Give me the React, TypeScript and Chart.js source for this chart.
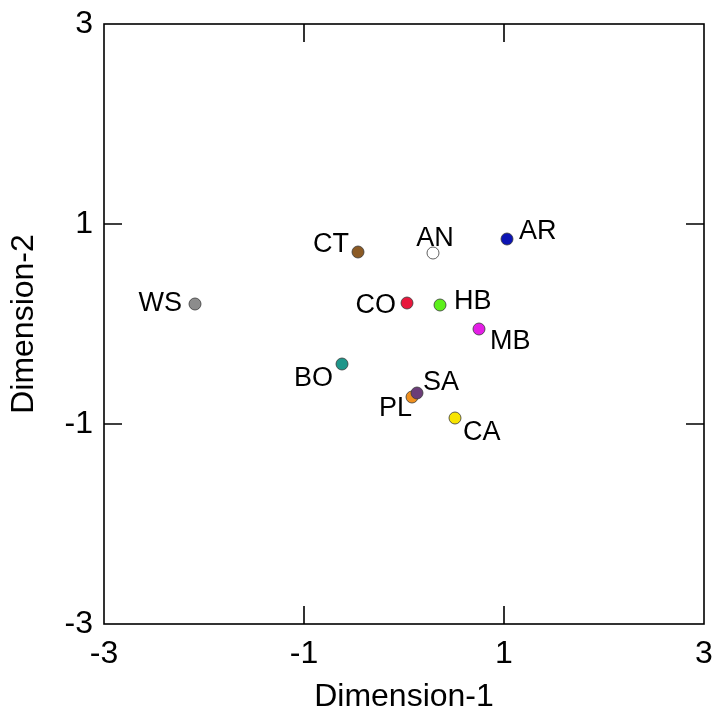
import React, { useEffect, useRef } from "react";
import { Chart, registerables } from "chart.js";

Chart.register(...registerables);

const groups = ["WS", "CT", "AN", "AR", "CO", "HB", "MB", "BO", "PL", "SA", "CA"];
const dimension1 = [-2.09, -0.46, 0.29, 1.03, 0.03, 0.36, 0.75, -0.62, 0.08, 0.13, 0.51];
const dimension2 = [0.2, 0.72, 0.71, 0.85, 0.21, 0.19, -0.05, -0.4, -0.73, -0.69, -0.94];
const pointColors = [
  "#8c8c8c", "#8b5a24", "#ffffff", "#0c14b4", "#e8173c", "#5cf01a",
  "#e41ee6", "#1e968a", "#f0901e", "#6b3d78", "#f7e400",
];
const axisTicks = [-3, -1, 1, 3];

// label placement (style): dx, dy from point centre, text alignment
const labelPlacement: [number, number, CanvasTextAlign][] = [
  [-13, 0, "right"],
  [-9, -7, "right"],
  [2, -14, "center"],
  [12, -7, "left"],
  [-11, 3, "right"],
  [14, -3, "left"],
  [11, 13, "left"],
  [-9, 15, "right"],
  [0, 12, "right"],
  [6, -10, "left"],
  [8, 15, "left"],
];

const FONT = "'Liberation Sans', Arial, sans-serif";

export default function App() {
  const ref = useRef<HTMLCanvasElement | null>(null);

  useEffect(() => {
    if (!ref.current) return;

    const boxPlugin = {
      id: "boxPlugin",
      afterDraw(chart: any) {
        const { ctx, chartArea } = chart;
        const xs = chart.scales.x;
        const ys = chart.scales.y;
        const { left, right, top, bottom } = chartArea;
        const tl = 18;
        ctx.save();
        ctx.strokeStyle = "#000";
        ctx.lineWidth = 1.6;
        ctx.strokeRect(left, top, right - left, bottom - top);
        ctx.beginPath();
        xs.ticks.forEach((t: any) => {
          if (t.value <= xs.min || t.value >= xs.max) return;
          const px = xs.getPixelForValue(t.value);
          ctx.moveTo(px, bottom);
          ctx.lineTo(px, bottom - tl);
          ctx.moveTo(px, top);
          ctx.lineTo(px, top + tl);
        });
        ys.ticks.forEach((t: any) => {
          if (t.value <= ys.min || t.value >= ys.max) return;
          const py = ys.getPixelForValue(t.value);
          ctx.moveTo(left, py);
          ctx.lineTo(left + tl, py);
          ctx.moveTo(right, py);
          ctx.lineTo(right - tl, py);
        });
        ctx.stroke();
        ctx.restore();
      },
      afterDatasetsDraw(chart: any) {
        const { ctx } = chart;
        const meta = chart.getDatasetMeta(0);
        ctx.save();
        ctx.fillStyle = "#000";
        ctx.font = `27px ${FONT}`;
        ctx.textBaseline = "middle";
        meta.data.forEach((el: any, i: number) => {
          const [dx, dy, align] = labelPlacement[i];
          ctx.textAlign = align;
          ctx.fillText(groups[i], el.x + dx, el.y + dy);
        });
        ctx.restore();
      },
    };

    const chart = new Chart(ref.current, {
      type: "scatter",
      data: {
        datasets: [
          {
            data: groups.map((_, i) => ({ x: dimension1[i], y: dimension2[i] })),
            pointBackgroundColor: pointColors,
            pointBorderColor: "#3a3a3a",
            pointBorderWidth: 0.8,
            pointRadius: 6,
            pointHoverRadius: 6,
          },
        ],
      },
      options: {
        animation: false,
        responsive: false,
        layout: { padding: { left: 0, top: 24, right: 18, bottom: 0 } },
        plugins: { legend: { display: false }, tooltip: { enabled: false } },
        scales: {
          x: {
            type: "linear",
            min: -3,
            max: 3,
            afterBuildTicks: (s: any) => {
              s.ticks = axisTicks.map((v) => ({ value: v }));
            },
            afterFit: (s: any) => {
              s.height = 94;
              s.paddingLeft = 0;
              s.paddingRight = 0;
            },
            grid: { display: false, drawTicks: false },
            border: { display: false },
            ticks: {
              color: "#000",
              font: { family: FONT, size: 32 },
              padding: 11,
              maxRotation: 0,
              autoSkip: false,
              callback: (v: any) => String(v),
            },
            title: {
              display: true,
              text: "Dimension-1",
              color: "#000",
              font: { family: FONT, size: 32 },
              padding: { top: 0, bottom: 2 },
            },
          },
          y: {
            type: "linear",
            min: -3,
            max: 3,
            afterBuildTicks: (s: any) => {
              s.ticks = axisTicks.map((v) => ({ value: v }));
            },
            afterFit: (s: any) => {
              s.width = 104;
              s.paddingTop = 0;
              s.paddingBottom = 0;
            },
            grid: { display: false, drawTicks: false },
            border: { display: false },
            ticks: {
              color: "#000",
              font: { family: FONT, size: 32 },
              padding: 11,
              autoSkip: false,
              callback: (v: any) => String(v),
            },
            title: {
              display: true,
              text: "Dimension-2",
              color: "#000",
              font: { family: FONT, size: 32 },
              padding: { top: 5, bottom: 0 },
            },
          },
        },
      },
      plugins: [boxPlugin],
    });

    return () => chart.destroy();
  }, []);

  return (
    <div style={{ position: "fixed", left: 0, top: 0, width: 722, height: 718, background: "#fff" }}>
      <canvas ref={ref} width={722} height={718} style={{ width: 722, height: 718, display: "block" }} />
    </div>
  );
}
